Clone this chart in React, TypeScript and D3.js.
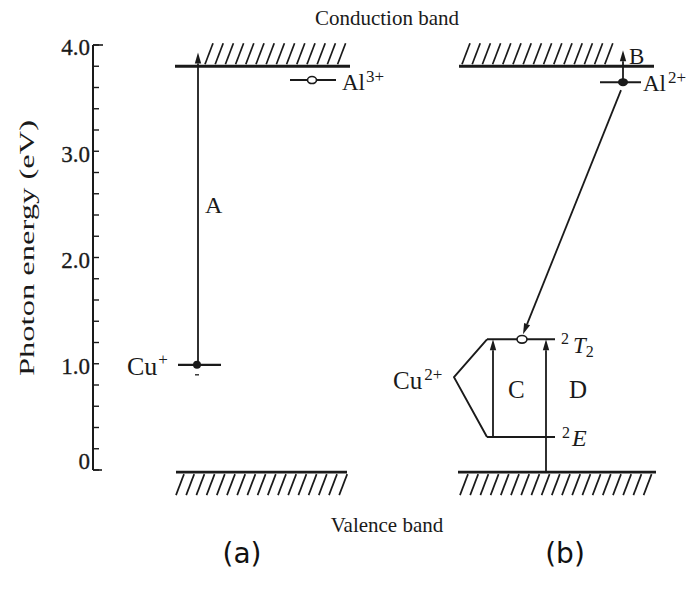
import React from "react";
import * as d3 from "d3";

// ---- data ----
const yTickValues = [0, 1.0, 2.0, 3.0, 4.0];
const yTickLabels = ["0", "1.0", "2.0", "3.0", "4.0"];
const yMinorStep = 0.2;
const bandEnergies = { conduction: 3.8, valence: -0.02 };
const levelNames = ["Cu+", "Al3+", "Al2+", "2T2", "2E"];
const levelEnergies = [0.99, 3.67, 3.65, 1.23, 0.31];
const transitionNames = ["A", "B", "C", "D"];
const transitionFrom = [0.99, 3.65, 0.31, -0.02];
const transitionTo = [3.93, 3.95, 1.23, 1.23];
const relaxFrom = 3.65; // Al2+ -> 2T2
const relaxTo = 1.23;

const W = 700;
const H = 591;
const serif = "'Liberation Serif', 'Times New Roman', serif";
const ink = "#1a1a1a";

export default function App() {
  const y = d3.scaleLinear().domain([0, 4]).range([470, 45]);
  const x = d3.scaleLinear().domain([0, W]).range([0, W]);
  const minor = d3.range(0, 4.0001, yMinorStep);
  const lv = (name: string) => y(levelEnergies[levelNames.indexOf(name)]);

  const hatch = (x0: number, x1: number, yb: number, up: boolean, key: string) => {
    const xs = d3.range(x0, x1, 10.2);
    return xs.map((xx, i) => {
      const yNear = up ? yb - 2 : yb + 2;
      const yFar = up ? yb - 23 : yb + 23;
      return (
        <line
          key={key + i}
          x1={up ? xx : xx + 8}
          y1={yNear}
          x2={up ? xx + 8 : xx}
          y2={yFar}
          stroke={ink}
          strokeWidth={1.7}
        />
      );
    });
  };

  const arrow = (x1: number, y1: number, x2: number, y2: number, key: string) => {
    const ang = Math.atan2(y2 - y1, x2 - x1);
    const L = 11;
    const w = 3.2;
    const bx = x2 - L * Math.cos(ang);
    const by = y2 - L * Math.sin(ang);
    const px = -Math.sin(ang) * w;
    const py = Math.cos(ang) * w;
    return (
      <g key={key}>
        <line x1={x1} y1={y1} x2={bx} y2={by} stroke={ink} strokeWidth={1.8} />
        <path d={`M${x2},${y2}L${bx + px},${by + py}L${bx - px},${by - py}Z`} fill={ink} />
      </g>
    );
  };

  const txt = {
    fontFamily: serif,
    fill: ink,
  } as const;
  const txtBold = {
    fontFamily: serif,
    fill: ink,
    stroke: ink,
    strokeWidth: 0.3,
  } as const;

  const yC = y(bandEnergies.conduction);
  const yV = y(bandEnergies.valence);
  const axisX = x(93);

  const tA = transitionNames.indexOf("A");
  const tB = transitionNames.indexOf("B");
  const tC = transitionNames.indexOf("C");
  const tD = transitionNames.indexOf("D");

  const yT2 = lv("2T2");
  const yE = lv("2E");
  const yAl2 = lv("Al2+");
  const yAl3 = lv("Al3+");
  const yCu = lv("Cu+");
  const yMid = (yT2 + yE) / 2;

  const dStart = [x(621), y(relaxFrom) + 8];
  const dEnd = [x(523), y(relaxTo) - 5];

  return (
    <svg width={W} height={H} style={{ position: "absolute", left: 0, top: 0, background: "#fff" }}>
      <rect width={W} height={H} fill="#fff" />
      {/* axis */}
      <line x1={axisX} y1={y(4)} x2={axisX} y2={y(0)} stroke={ink} strokeWidth={2} />
      {minor.map((v, i) => (
        <line key={"mt" + i} x1={axisX} x2={axisX + 6} y1={y(v)} y2={y(v)} stroke={ink} strokeWidth={1.4} />
      ))}
      <line x1={axisX} x2={axisX + 10} y1={y(4)} y2={y(4)} stroke={ink} strokeWidth={1.6} />
      <line x1={axisX} x2={axisX + 9} y1={y(0)} y2={y(0)} stroke={ink} strokeWidth={1.6} />
      {yTickValues.map((v, i) => (
        <text
          key={"tl" + i}
          x={axisX - 3}
          y={y(v) + (v === 0 ? -6 : 5)}
          textAnchor="end"
          dominantBaseline="middle"
          fontSize={23}
          {...txtBold}
        >
          {yTickLabels[i]}
        </text>
      ))}
      <text
        transform={`translate(34,248) rotate(-90)`}
        textAnchor="middle"
        fontSize={22}
        textLength={256}
        lengthAdjust="spacingAndGlyphs"
        {...txt}
      >
        Photon energy (eV)
      </text>

      {/* titles */}
      <text x={387} y={25} textAnchor="middle" fontSize={21} {...txt}>
        Conduction band
      </text>
      <text x={387} y={532} textAnchor="middle" fontSize={21} {...txt}>
        Valence band
      </text>
      <text x={242} y={563} textAnchor="middle" fontFamily="'DejaVu Sans', sans-serif" fontSize={28} fill="#111">
        (a)
      </text>
      <text x={565} y={563} textAnchor="middle" fontFamily="'DejaVu Sans', sans-serif" fontSize={28} fill="#111">
        (b)
      </text>

      {/* panel (a) bands */}
      <line x1={x(175)} x2={x(350)} y1={yC} y2={yC} stroke={ink} strokeWidth={2.8} />
      {hatch(x(205), x(340), yC, true, "ca")}
      <line x1={x(176)} x2={x(347)} y1={yV} y2={yV} stroke={ink} strokeWidth={2.8} />
      {hatch(x(176), x(342), yV, false, "va")}

      {/* panel (b) bands */}
      <line x1={x(459)} x2={x(654)} y1={yC} y2={yC} stroke={ink} strokeWidth={2.8} />
      {hatch(x(462), x(612), yC, true, "cb")}
      <line x1={x(458)} x2={x(656)} y1={yV} y2={yV} stroke={ink} strokeWidth={2.8} />
      {hatch(x(460), x(650), yV, false, "vb")}

      {/* Cu+ level */}
      <line x1={x(178)} x2={x(221)} y1={yCu} y2={yCu} stroke={ink} strokeWidth={2.2} />
      <circle cx={x(197)} cy={yCu} r={4} fill={ink} />
      <line x1={x(195)} x2={x(199)} y1={yCu + 10} y2={yCu + 10} stroke={ink} strokeWidth={1.3} />
      <text x={x(127)} y={yCu + 10} fontSize={26} {...txt}>
        Cu<tspan dx={1} dy={-10} fontSize={17}>+</tspan>
      </text>

      {/* transition A */}
      {arrow(x(198), y(transitionFrom[tA]), x(198), y(transitionTo[tA]), "A")}
      <text x={x(205)} y={y(2.5) + 9} fontSize={24} {...txt}>A</text>

      {/* Al3+ level */}
      <line x1={x(290)} x2={x(336)} y1={yAl3} y2={yAl3} stroke={ink} strokeWidth={1.9} />
      <ellipse cx={x(312)} cy={yAl3} rx={4.5} ry={3.5} fill="#fff" stroke={ink} strokeWidth={1.6} />
      <text x={x(342)} y={yAl3 + 10} fontSize={23} {...txt}>
        Al<tspan dx={1} dy={-8} fontSize={17}>3+</tspan>
      </text>

      {/* Al2+ level */}
      <line x1={x(600)} x2={x(641)} y1={yAl2} y2={yAl2} stroke={ink} strokeWidth={1.9} />
      <ellipse cx={x(623)} cy={yAl2} rx={5} ry={4} fill={ink} />
      <text x={x(643)} y={yAl2 + 9} fontSize={23} {...txt}>
        Al<tspan dx={2} dy={-8} fontSize={17}>2+</tspan>
      </text>
      {arrow(x(623), y(transitionFrom[tB]), x(623), y(transitionTo[tB]), "B")}
      <text x={x(629)} y={y(3.88) + 6} fontSize={23} {...txt}>B</text>

      {/* relaxation arrow */}
      {arrow(dStart[0], dStart[1], dEnd[0], dEnd[1], "rel")}

      {/* Cu2+ levels */}
      <line x1={x(487)} x2={x(555)} y1={yT2} y2={yT2} stroke={ink} strokeWidth={1.9} />
      <line x1={x(487)} x2={x(555)} y1={yE} y2={yE} stroke={ink} strokeWidth={1.9} />
      <path
        d={`M${x(487)},${yT2}L${x(454)},${yMid - 11}L${x(487)},${yE}`}
        fill="none"
        stroke={ink}
        strokeWidth={1.9}
      />
      <ellipse cx={x(522)} cy={yT2} rx={5} ry={3.8} fill="#fff" stroke={ink} strokeWidth={1.6} />
      <text x={x(393)} y={yMid + 1} fontSize={25} {...txt}>
        Cu<tspan dx={2} dy={-9} fontSize={17}>2+</tspan>
      </text>
      <text x={x(561)} y={yT2 + 14} fontSize={23} {...txt}>
        <tspan dy={-9} fontSize={16}>2</tspan>
        <tspan dx={4} dy={9} fontStyle="italic">T</tspan>
        <tspan dy={4} fontSize={16}>2</tspan>
      </text>
      <text x={x(562)} y={yE + 9} fontSize={24} {...txt}>
        <tspan dy={-8} fontSize={16}>2</tspan>
        <tspan dx={2} dy={8} fontStyle="italic">E</tspan>
      </text>

      {/* transitions C, D */}
      {arrow(x(493), y(transitionFrom[tC]), x(493), y(transitionTo[tC]), "C")}
      <text x={x(508)} y={yMid + 10} fontSize={25} {...txt}>C</text>
      {arrow(x(546), y(transitionFrom[tD]), x(546), y(transitionTo[tD]), "D")}
      <text x={x(569)} y={yMid + 10} fontSize={25} {...txt}>D</text>
    </svg>
  );
}
